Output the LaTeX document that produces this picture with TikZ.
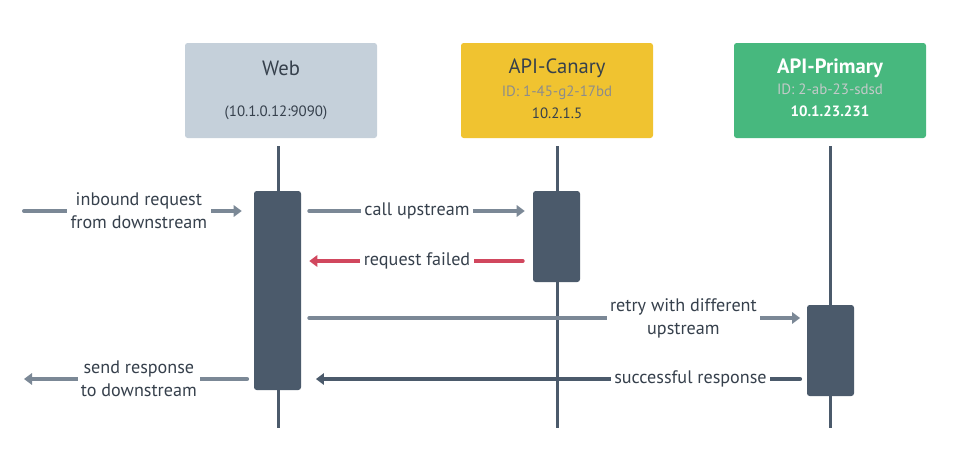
\documentclass[tikz,border=0pt]{standalone}
\usepackage{fontspec}
\setmainfont{PT Sans}
\usetikzlibrary{arrows.meta,calc}
\definecolor{webc}{HTML}{C5D0DA}
\definecolor{canc}{HTML}{F0C330}
\definecolor{pric}{HTML}{47B87E}
\definecolor{life}{HTML}{4B5A6B}
\definecolor{msg}{HTML}{7B8896}
\definecolor{fail}{HTML}{D1475E}
\definecolor{txt}{HTML}{36404C}
\definecolor{idgray}{HTML}{8C8C8C}
\definecolor{idlight}{HTML}{C3CAC9}
\tikzset{
  actor/.style={rectangle, rounded corners=2pt, minimum width=144pt, minimum height=71.25pt, inner sep=0pt},
  actbox/.style={rectangle, rounded corners=2pt, fill=life, minimum width=35.25pt, inner sep=0pt},
  lifeline/.style={draw=life, line width=2.25pt},
  msgline/.style={draw=msg, line width=3pt, line cap=round, -{Triangle[length=6pt,width=8.5pt]}},
  failline/.style={msgline, draw=fail},
  okline/.style={msgline, draw=life},
  lbl/.style={fill=white, text=txt, font=\fontsize{13.6}{17.3}\selectfont, align=center, inner sep=2.5pt},
  ttl/.style={font=\fontsize{15.5}{18}\selectfont},
  sub/.style={font=\fontsize{11.2}{13}\selectfont},
}
\begin{document}
\begin{tikzpicture}[x=0.75pt,y=-0.75pt]
\useasboundingbox (0,0) rectangle (962,450);
% actors
\node[actor, fill=webc] (web) at (281,90.5) {};
\node[actor, fill=canc] (can) at (557,90.5) {};
\node[actor, fill=pric] (pri) at (830,90.5) {};
\node[ttl, text=txt] (webt) at (281,68) {Web};
\node[sub, text=txt] (webip) at (276,113) {(10.1.0.12:9090)};
\node[ttl, text=txt] (cant) at (557,68) {API-Canary};
\node[sub, text=idgray] (canid) at (557,93) {ID: 1-45-g2-17bd};
\node[sub, text=txt] (canip) at (557,113) {10.2.1.5};
\node[ttl, text=white, font=\bfseries\fontsize{15.5}{18}\selectfont] (prit) at (830,68) {API-Primary};
\node[sub, text=idlight] (priid) at (830,89) {ID: 2-ab-23-sdsd};
\node[sub, text=white, font=\bfseries\fontsize{11.2}{13}\selectfont] (priip) at (830,111) {10.1.23.231};
% lifelines
\coordinate (webl1) at (278,146); \coordinate (webl2) at (278,428);
\coordinate (canl1) at (557,146); \coordinate (canl2) at (557,428);
\coordinate (pril1) at (830,146); \coordinate (pril2) at (830,428);
\draw[lifeline] (webl1) -- (webl2);
\draw[lifeline] (canl1) -- (canl2);
\draw[lifeline] (pril1) -- (pril2);
% activations
\node[actbox, minimum height=149.25pt] (webact) at (277.5,290.5) {};
\node[actbox, minimum height=68.25pt] (canact) at (556.5,236.5) {};
\node[actbox, minimum height=68.25pt] (priact) at (830.5,350.5) {};
% message rows
\coordinate (r1) at (0,211);
\coordinate (r2) at (0,261);
\coordinate (r3) at (0,318);
\coordinate (r4) at (0,379);
\coordinate (inL) at (24,211);
\coordinate (outL) at (24,379);
% messages
\draw[msgline, shorten >=9pt] (inL) -- node[lbl] {inbound request\\from downstream} (webact.west |- r1);
\draw[msgline, shorten <=6pt, shorten >=6pt] (webact.east |- r1) -- node[lbl] {call upstream} (canact.west |- r1);
\draw[failline, shorten <=7.5pt, shorten >=6pt] (canact.west |- r2) -- node[lbl] {request failed} (webact.east |- r2);
\draw[msgline, shorten <=6pt, shorten >=5pt] (webact.east |- r3) -- node[lbl, pos=0.756] {retry with different\\upstream} (priact.west |- r3);
\draw[okline, shorten <=5pt, shorten >=11pt] (priact.west |- r4) -- node[lbl, pos=0.23] {successful response} (webact.east |- r4);
\draw[msgline, shorten <=5pt] (webact.west |- r4) -- node[lbl] {send response\\to downstream} (outL);
\end{tikzpicture}
\end{document}
